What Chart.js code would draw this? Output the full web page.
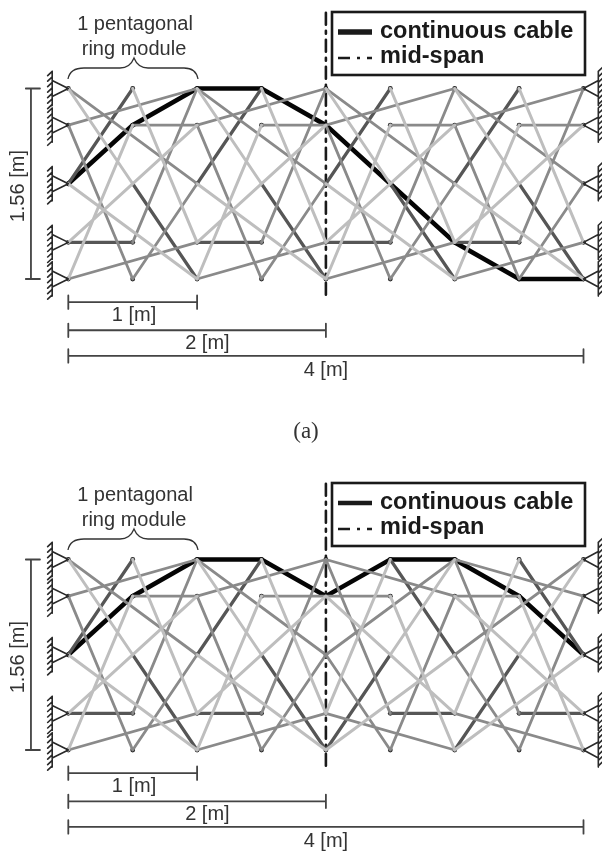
<!DOCTYPE html>
<html>
<head>
<meta charset="utf-8">
<title>Pentagonal ring module</title>
<script src="https://cdn.jsdelivr.net/npm/chart.js@4"></script>
<style>
  html, body { margin: 0; padding: 0; background: #fff; }
  canvas { position: absolute; left: 0; filter: blur(0.7px); }
  #panelA { top: 0; }
  #panelB { top: 471px; }
</style>
</head>
<body>
<canvas id="panelA" width="602" height="471"></canvas>
<canvas id="panelB" width="602" height="381"></canvas>
<script>
// node positions in metres
const colX = [0, 0.5, 1, 1.5, 2, 2.5, 3, 3.5, 4];
const rowY = [1.56, 1.26, 0.78, 0.3, 0];

// one module, as [col, row, col, row] counted from the module's first column
const darkMembers = [[0, 3, 1, 3], [1, 2, 2, 4], [0, 2, 1, 0]];
const midMembers = [[0, 0, 2, 2], [0, 1, 1, 4], [1, 3, 2, 0], [1, 4, 2, 2], [0, 4, 2, 3], [0, 1, 2, 0], [1, 1, 2, 1]];
const lightMembers = [[0, 2, 2, 4], [0, 0, 1, 2], [1, 0, 2, 3], [0, 4, 1, 1], [0, 3, 2, 1]];

// row of the continuous cable at each column
const cableRowsA = [2, 1, 0, 0, 1, 2, 3, 4, 4];
const cableRowsB = [2, 1, 0, 0, 1, 0, 0, 1, 2];

const dimSpans = [1, 2, 4];
const dimLevels = [-0.19, -0.42, -0.63];
const dimLabels = ['1 [m]', '2 [m]', '4 [m]'];
const dimLabelX = [0.51, 1.08, 2.0];
const dimLabelGap = [13, 13, 15];

const heightLabel = '1.56 [m]';
const moduleLabel = ['1 pentagonal', 'ring module'];
const legendLabels = ['continuous cable', 'mid-span'];

// scale: 128.8 px per metre across, 122.1 px per metre down
const xMin = -68.3 / 128.8;
const xMax = (602 - 68.3) / 128.8;
const yMax = 1.56 + 88.5 / 122.1;

// turn a list of [x1, y1, x2, y2] into points with gaps between the pieces
function toSegments(list) {
  const points = [];
  list.forEach(s => {
    points.push({x: s[0], y: s[1]}, {x: s[2], y: s[3]}, {x: null, y: null});
  });
  return points;
}

// members of a panel. Panel (a) repeats left to right, panel (b) is mirrored about mid-span
function placeMembers(members, bases, mirrored) {
  const list = [];
  bases.forEach(b => {
    members.forEach(m => {
      let c1 = b + m[0];
      let c2 = b + m[2];
      list.push([colX[c1], rowY[m[1]], colX[c2], rowY[m[3]]]);
      if (mirrored) {
        c1 = 8 - c1;
        c2 = 8 - c2;
        list.push([colX[c1], rowY[m[1]], colX[c2], rowY[m[3]]]);
      }
    });
  });
  return list;
}

// wall, hatching and the two legs of a pinned support
function supportLines() {
  const list = [];
  [[0, -0.125, -1], [4, 4.115, 1]].forEach(side => {
    const nodeX = side[0];
    const wallX = side[1];
    const dir = side[2];
    rowY.forEach(y => {
      list.push([wallX, y + 0.14, wallX, y - 0.14]);
      list.push([nodeX, y, wallX, y + 0.065]);
      list.push([nodeX, y, wallX, y - 0.065]);
      for (let h = -0.13; h <= 0.14; h += 0.045) {
        list.push([wallX, y + h, wallX + dir * 0.035, y + h + (dir < 0 ? -0.035 : 0.035)]);
      }
    });
  });
  return list;
}

function lineSet(data, color, width, dash) {
  return {
    data: data,
    showLine: true,
    borderColor: color,
    borderWidth: width,
    borderDash: dash || [],
    borderCapStyle: 'round',
    pointRadius: 0,
    spanGaps: false
  };
}

function buildDatasets(cableRows, bases, mirrored) {
  // the odd columns have no joint dot at mid height
  const nodes = [];
  colX.forEach((x, c) => rowY.forEach((y, r) => {
    if (c % 2 === 0 || r !== 2) nodes.push({x: x, y: y});
  }));

  const dims = [];
  dimSpans.forEach((span, i) => {
    const y = dimLevels[i];
    dims.push([0, y, span, y], [0, y + 0.055, 0, y - 0.055], [span, y + 0.055, span, y - 0.055]);
  });
  dims.push([-0.29, 1.56, -0.29, 0], [-0.33, 1.56, -0.22, 1.56], [-0.33, 0, -0.22, 0]);

  return [
    lineSet(toSegments(supportLines()), '#2a2a2a', 1.6),
    lineSet(toSegments(placeMembers(lightMembers, bases, mirrored)), '#bebebe', 3),
    lineSet(toSegments(placeMembers(midMembers, bases, mirrored)), '#8a8a8a', 2.8),
    lineSet(toSegments(placeMembers(darkMembers, bases, mirrored)), '#565656', 3.2),
    lineSet(cableRows.map((r, i) => ({x: colX[i], y: rowY[r]})), '#050505', 4.6),
    lineSet(toSegments(dims), '#444', 1.8),
    lineSet([{x: 2, y: 2.18}, {x: 2, y: -0.13}], '#1a1a1a', 2.6, [12, 6, 3, 6]),
    {data: nodes, showLine: false, pointRadius: 2.4, pointBackgroundColor: '#222', pointBorderWidth: 0}
  ];
}

// texts, brace and legend box. These are annotations, not marks
const annotations = {
  id: 'annotations',
  afterDatasetsDraw(chart, args, opts) {
    const ctx = chart.ctx;
    const xs = chart.scales.x;
    const ys = chart.scales.y;
    ctx.save();
    ctx.fillStyle = '#333';
    ctx.textAlign = 'center';
    ctx.textBaseline = 'middle';
    ctx.font = '20px "Liberation Sans"';

    ctx.fillText(moduleLabel[0], 135, 24);
    ctx.fillText(moduleLabel[1], 134, 49);

    dimLabels.forEach((label, i) => {
      ctx.fillText(label, xs.getPixelForValue(dimLabelX[i]), ys.getPixelForValue(dimLevels[i]) + dimLabelGap[i]);
    });

    ctx.save();
    ctx.translate(18, ys.getPixelForValue(0.76));
    ctx.rotate(-Math.PI / 2);
    ctx.fillText(heightLabel, 0, 0);
    ctx.restore();

    // brace over the first module
    ctx.strokeStyle = '#333';
    ctx.lineWidth = 1.3;
    ctx.beginPath();
    ctx.moveTo(68, 79);
    ctx.quadraticCurveTo(70, 68, 84, 68);
    ctx.lineTo(120, 68);
    ctx.quadraticCurveTo(130, 68, 134, 58);
    ctx.quadraticCurveTo(138, 68, 148, 68);
    ctx.lineTo(184, 68);
    ctx.quadraticCurveTo(196, 68, 198, 79);
    ctx.stroke();

    // legend box
    ctx.fillStyle = '#fff';
    ctx.fillRect(332, 12, 253, 63);
    ctx.strokeStyle = '#1a1a1a';
    ctx.lineWidth = 2.6;
    ctx.strokeRect(332, 12, 253, 63);
    ctx.lineWidth = opts.legendWidth;
    ctx.beginPath();
    ctx.moveTo(338, 32);
    ctx.lineTo(372, 32);
    ctx.stroke();
    ctx.lineWidth = 2.6;
    ctx.setLineDash([12, 7, 3, 7, 3, 0]);
    ctx.beginPath();
    ctx.moveTo(338, 58);
    ctx.lineTo(372, 58);
    ctx.stroke();
    ctx.setLineDash([]);
    ctx.fillStyle = '#1a1a1a';
    ctx.textAlign = 'left';
    ctx.font = 'bold 23.5px "Liberation Sans"';
    ctx.fillText(legendLabels[0], 380, 32);
    ctx.fillText(legendLabels[1], 380, 57);

    if (opts.caption) {
      ctx.fillStyle = '#333';
      ctx.textAlign = 'center';
      ctx.font = '23px "Liberation Serif"';
      ctx.fillText(opts.caption, 306, 432);
    }
    ctx.restore();
  }
};

function drawPanel(canvasId, datasets, canvasHeight, legendWidth, caption) {
  const ctx = document.getElementById(canvasId).getContext('2d');
  return new Chart(ctx, {
    type: 'scatter',
    data: {datasets: datasets},
    options: {
      responsive: false,
      animation: false,
      layout: {padding: 0, autoPadding: false},
      scales: {
        x: {type: 'linear', display: false, min: xMin, max: xMax},
        y: {type: 'linear', display: false, min: -(canvasHeight - 279) / 122.1, max: yMax}
      },
      plugins: {
        legend: {display: false},
        tooltip: {enabled: false},
        annotations: {legendWidth: legendWidth, caption: caption}
      }
    },
    plugins: [annotations]
  });
}

drawPanel('panelA', buildDatasets(cableRowsA, [0, 2, 4, 6], false), 471, 5.5, '(a)');
drawPanel('panelB', buildDatasets(cableRowsB, [0, 2], true), 381, 4.5, '');
</script>
</body>
</html>
